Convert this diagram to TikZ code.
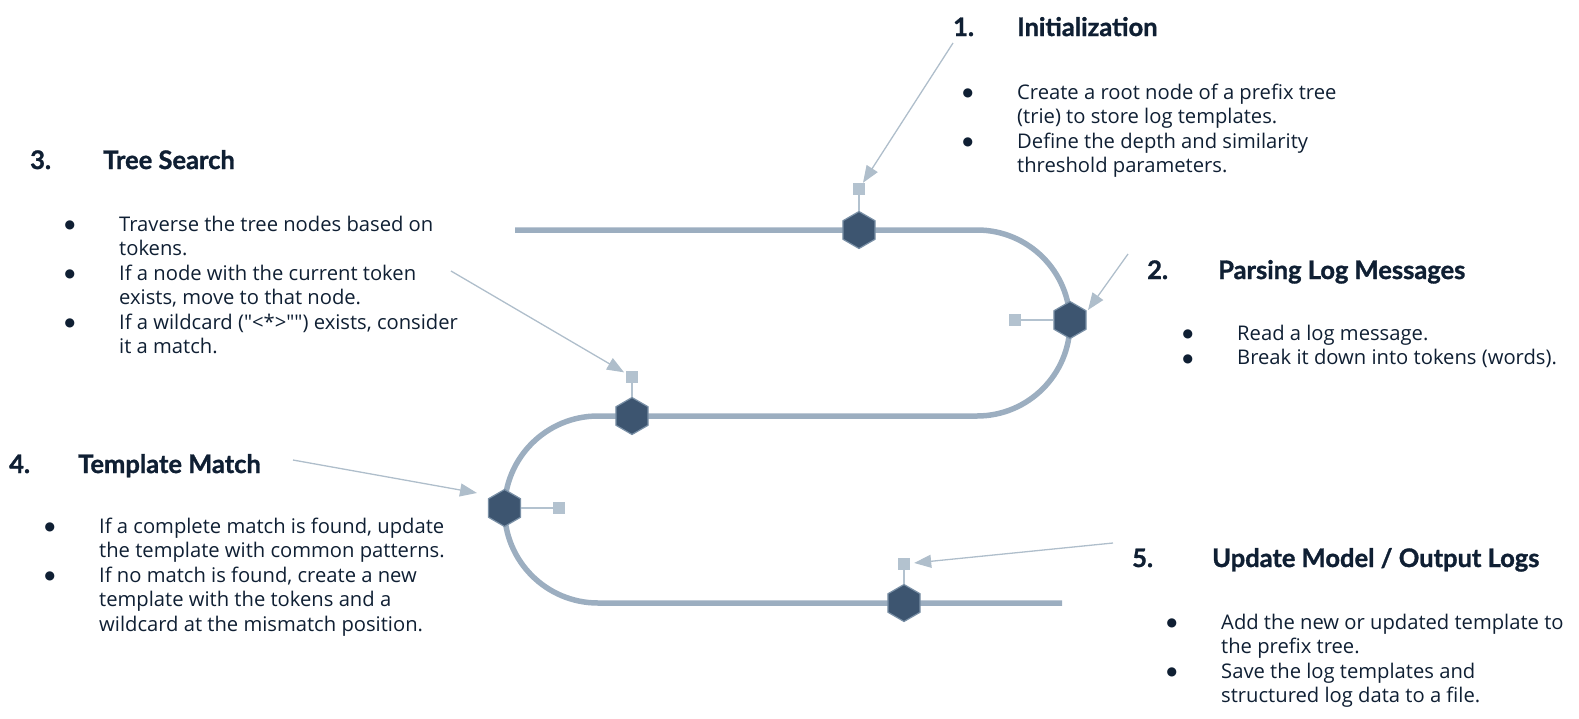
\documentclass[tikz,border=0pt]{standalone}
\usepackage{fontspec}
\setmainfont{Open Sans}[Ligatures=TeXOff]
\newfontfamily\headfont{Lato}[BoldFeatures={FakeBold=1.2}]
\newfontfamily\dotfont{DejaVu Sans}
\usetikzlibrary{arrows.meta,shapes.geometric}
\definecolor{ink}{HTML}{0F1F33}
\definecolor{trackc}{HTML}{9CAEC0}
\definecolor{hexfill}{HTML}{3D5570}
\definecolor{hexline}{HTML}{7A90A6}
\definecolor{pinc}{HTML}{B3C2CF}
\definecolor{pointc}{HTML}{AFBECB}
\newcommand{\bl}{\llap{\raisebox{2.5pt}{\dotfont\fontsize{12}{12}\selectfont ●}\hspace{44pt}}}
\begin{document}
\begin{tikzpicture}[x=1pt,y=1pt,
  hex/.style={regular polygon,regular polygon sides=6,shape border rotate=30,minimum size=37pt,inner sep=0pt,fill=hexfill,draw=hexline,line width=1.2pt},
  pin/.style={rectangle,minimum size=12pt,inner sep=0pt,fill=pinc},
  stem/.style={draw=pinc,line width=1.8pt},
  pointer/.style={draw=pointc,line width=1.3pt,-{Triangle[length=17pt,width=13pt]}},
  track/.style={draw=trackc,line width=5.5pt},
  head/.style={anchor=base west,inner sep=0pt,text=ink,font=\headfont\bfseries\fontsize{25.5}{30}\selectfont},
  body/.style={anchor=base west,inner sep=0pt,align=left,text=ink,font=\fontsize{20.2}{24.5}\selectfont}]
\useasboundingbox (0,0) rectangle (1579,-718);
\draw[track] (515,-230) -- (977,-230) arc(90:-90:93pt) -- (598,-416) arc(90:270:93.5pt) -- (1062,-603);
\node[hex] (hex1) at (859,-230) {};
\node[hex] (hex2) at (1070,-320) {};
\node[hex] (hex3) at (632,-416) {};
\node[hex] (hex4) at (504.5,-508) {};
\node[hex] (hex5) at (904,-603) {};
\node[pin] (sq1) at (859,-189) {};
\node[pin] (sq2) at (1015,-320) {};
\node[pin] (sq3) at (632,-377) {};
\node[pin] (sq4) at (559,-508) {};
\node[pin] (sq5) at (904,-564) {};
\draw[stem] (sq1) -- (hex1);
\draw[stem] (sq2) -- (hex2);
\draw[stem] (sq3) -- (hex3);
\draw[stem] (sq4) -- (hex4);
\draw[stem] (sq5) -- (hex5);
\coordinate (a1) at (953,-43);
\coordinate (a2) at (1128,-254);
\coordinate (a3) at (451,-271);
\coordinate (a4) at (293,-460);
\coordinate (a5) at (1113,-543);
\coordinate (t2) at (1088,-310);
\coordinate (t4) at (477,-493);
\draw[pointer] (a1) -- (sq1);
\draw[pointer] (a2) -- (t2);
\draw[pointer,shorten >=2pt] (a3) -- (sq3);
\draw[pointer] (a4) -- (t4);
\draw[pointer,shorten >=4pt] (a5) -- (sq5);
\node[head] (n1) at (953,-36) {1.};
\node[head] (h1) at (1017,-36) {Initialization};
\node[body] (b1) at (1017,-172.5) {\bl Create a root node of a prefix tree\\(trie) to store log templates.\\\bl Define the depth and similarity\\threshold parameters.};
\node[head] (n2) at (1147,-279) {2.};
\node[head] (h2) at (1218,-279) {Parsing Log Messages};
\node[body] (b2) at (1237,-364.5) {\bl Read a log message.\\\bl Break it down into tokens (words).};
\node[head] (n3) at (30,-169) {3.};
\node[head] (h3) at (103,-169) {Tree Search};
\node[body] (b3) at (119,-353.5) {\bl Traverse the tree nodes based on\\tokens.\\\bl If a node with the current token\\exists, move to that node.\\\bl If a wildcard ("<*>"") exists, consider\\it a match.};
\node[head] (n4) at (9,-473) {4.};
\node[head] (h4) at (78,-473) {Template Match};
\node[body] (b4) at (99,-631) {\bl If a complete match is found, update\\the template with common patterns.\\\bl If no match is found, create a new\\template with the tokens and a\\wildcard at the mismatch position.};
\node[head] (n5) at (1132,-567) {5.};
\node[head] (h5) at (1212,-567) {Update Model / Output Logs};
\node[body] (b5) at (1221,-702.5) {\bl Add the new or updated template to\\the prefix tree.\\\bl Save the log templates and\\structured log data to a file.};
\end{tikzpicture}
\end{document}
